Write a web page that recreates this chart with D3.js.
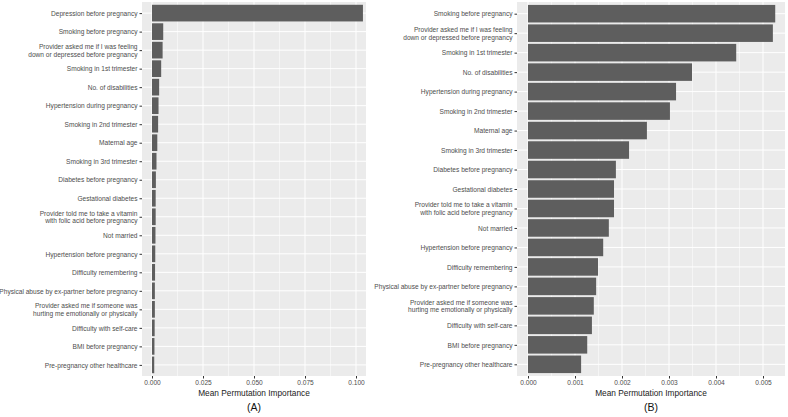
<!DOCTYPE html>
<html><head><meta charset="utf-8">
<script src="https://cdn.jsdelivr.net/npm/d3@7"></script>
<style>body{margin:0;background:#fff}svg{display:block;font-family:"Liberation Sans",Arial,sans-serif}</style>
</head><body><svg id="c" width="788" height="417"></svg>
<script>
const categoriesA = ["Depression before pregnancy","Smoking before pregnancy","Provider asked me if I was feeling\ndown or depressed before pregnancy","Smoking in 1st trimester","No. of disabilities","Hypertension during pregnancy","Smoking in 2nd trimester","Maternal age","Smoking in 3rd trimester","Diabetes before pregnancy","Gestational diabetes","Provider told me to take a vitamin\nwith folic acid before pregnancy","Not married","Hypertension before pregnancy","Difficulty remembering","Physical abuse by ex-partner before pregnancy","Provider asked me if someone was\nhurting me emotionally or physically","Difficulty with self-care","BMI before pregnancy","Pre-pregnancy other healthcare"];
const valuesA = [0.1034,0.0055,0.0052,0.0045,0.0035,0.0032,0.0030,0.0026,0.0022,0.0019,0.0018,0.0018,0.0017,0.0016,0.0015,0.0014,0.0014,0.0013,0.0012,0.0011];
const ticksA = [0,0.025,0.05,0.075,0.1];

const categoriesB = ["Smoking before pregnancy","Provider asked me if I was feeling\ndown or depressed before pregnancy","Smoking in 1st trimester","No. of disabilities","Hypertension during pregnancy","Smoking in 2nd trimester","Maternal age","Smoking in 3rd trimester","Diabetes before pregnancy","Gestational diabetes","Provider told me to take a vitamin\nwith folic acid before pregnancy","Not married","Hypertension before pregnancy","Difficulty remembering","Physical abuse by ex-partner before pregnancy","Provider asked me if someone was\nhurting me emotionally or physically","Difficulty with self-care","BMI before pregnancy","Pre-pregnancy other healthcare"];
const valuesB = [0.00526,0.00521,0.00443,0.00349,0.00315,0.00302,0.00253,0.00215,0.00187,0.00183,0.00183,0.00172,0.00160,0.00149,0.00145,0.00140,0.00136,0.00126,0.00113];
const ticksB = [0,0.001,0.002,0.003,0.004,0.005];

const svg = d3.select("#c");

function panel(cfg){
  const {cats, vals, ticks, x0, x1, y0, y1, zeroPx, maxTick, maxTickPx, caption} = cfg;
  const pxPerUnit = (maxTickPx - zeroPx)/maxTick;
  const x = d3.scaleLinear().domain([(x0-zeroPx)/pxPerUnit,(x1-zeroPx)/pxPerUnit]).range([x0,x1]);
  const y = d3.scalePoint().domain(cats).range([y0,y1]).padding(0.6);
  const step = y.step();
  const g = svg.append("g");
  g.append("rect").attr("x",x0).attr("y",y0).attr("width",x1-x0).attr("height",y1-y0).attr("fill","#EBEBEB");
  // minor grid
  const minor = [];
  for(let i=0;i<ticks.length;i++){ const d=ticks[1]-ticks[0]; const m=ticks[i]+d/2; if(x(m)<x1) minor.push(m); }
  const dtk = ticks[1]-ticks[0];
  if (x(ticks[0]-dtk/2) > x0) minor.push(ticks[0]-dtk/2);
  g.selectAll(".mn").data(minor).enter().append("line")
   .attr("x1",d=>x(d)).attr("x2",d=>x(d)).attr("y1",y0).attr("y2",y1)
   .attr("stroke","#fff").attr("stroke-width",0.5);
  g.selectAll(".mj").data(ticks).enter().append("line")
   .attr("x1",d=>x(d)).attr("x2",d=>x(d)).attr("y1",y0).attr("y2",y1)
   .attr("stroke","#fff").attr("stroke-width",1);
  g.selectAll(".hg").data(cats).enter().append("line")
   .attr("x1",x0).attr("x2",x1).attr("y1",d=>y(d)).attr("y2",d=>y(d))
   .attr("stroke","#fff").attr("stroke-width",1);
  g.selectAll(".bar").data(cats).enter().append("rect")
   .attr("x",x(0)).attr("y",d=>y(d)-step*0.45)
   .attr("width",(d,i)=>x(vals[i])-x(0)).attr("height",step*0.9)
   .attr("fill","#5E5E5E");
  // x axis
  const xa = g.append("g").attr("transform",`translate(0,${y1})`)
    .call(d3.axisBottom(x).tickValues(ticks).tickFormat(d3.format(".3f")).tickSize(2.5).tickPadding(2));
  xa.select(".domain").remove();
  xa.selectAll("line").attr("stroke","#333");
  xa.selectAll("text").attr("fill","#4D4D4D").attr("font-size","6.6px").attr("font-family","Liberation Sans, Arial, sans-serif");
  // y axis
  const ya = g.append("g").attr("transform",`translate(${x0},0)`)
    .call(d3.axisLeft(y).tickSize(2.5).tickPadding(2).tickFormat(""));
  ya.select(".domain").remove();
  ya.selectAll("line").attr("stroke","#333");
  ya.selectAll(".tick").each(function(d){
    const lines = d.split("\n");
    const t = d3.select(this).append("text").attr("x",-4.5).attr("text-anchor","end")
      .attr("fill","#4D4D4D").attr("font-size","6.6px");
    const lh = 7.6;
    lines.forEach((ln,i)=>{
      t.append("tspan").attr("x",-4.5).attr("y", (i-(lines.length-1)/2)*lh).attr("dy","0.34em").text(ln);
    });
  });
  g.append("text").attr("x",(x0+x1)/2).attr("y",y1+20).attr("text-anchor","middle")
   .attr("font-size","8.3px").attr("fill","#222").text("Mean Permutation Importance");
  g.append("text").attr("x",(x0+x1)/2).attr("y",y1+35).attr("text-anchor","middle")
   .attr("font-size","10.5px").attr("fill","#111").text(caption);
}

panel({cats:categoriesA, vals:valuesA, ticks:ticksA, x0:142, x1:366, y0:2, y1:376, zeroPx:152, maxTick:0.1, maxTickPx:356, caption:"(A)"});
panel({cats:categoriesB, vals:valuesB, ticks:ticksB, x0:517, x1:785, y0:2, y1:376, zeroPx:528, maxTick:0.005, maxTickPx:763, caption:"(B)"});
</script></body></html>
